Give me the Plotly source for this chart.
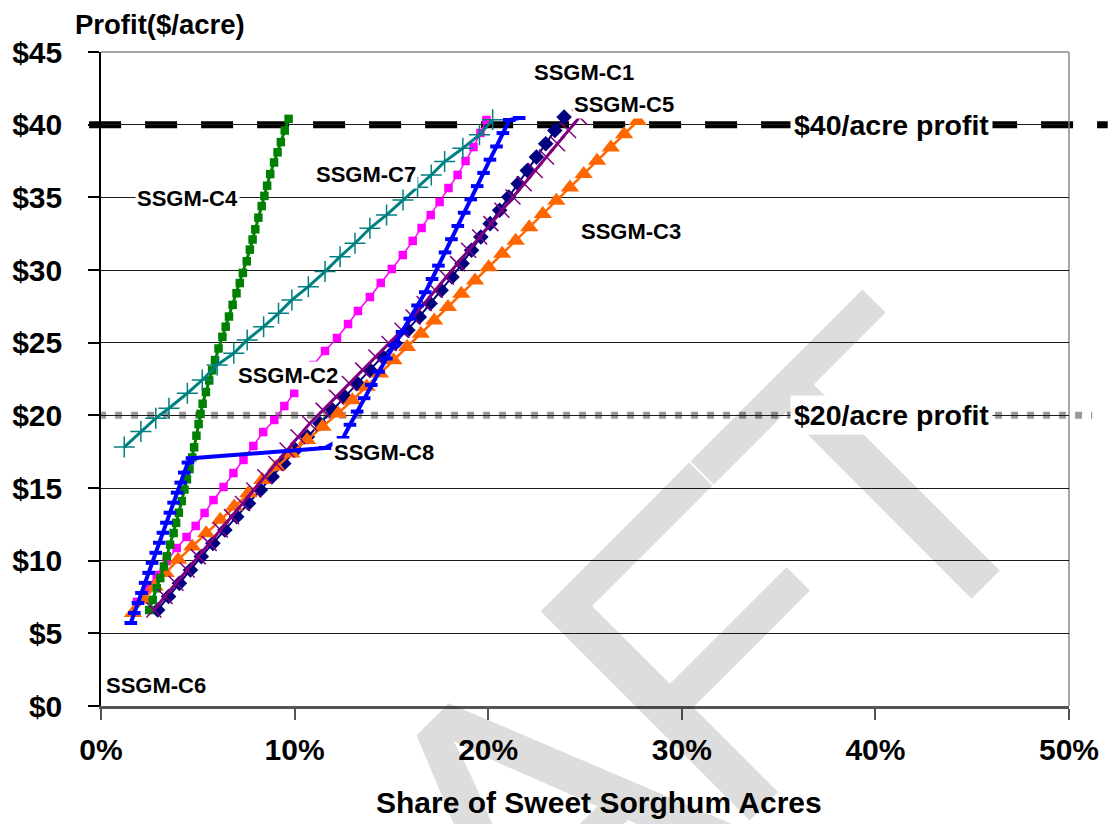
import plotly.graph_objects as go

# ---- axis ticks -------------------------------------------------------------
x_ticks = [0.0, 0.1, 0.2, 0.3, 0.4, 0.5]
y_ticks = [0, 5, 10, 15, 20, 25, 30, 35, 40, 45]
y_tick_text = ["$0", "$5", "$10", "$15", "$20", "$25", "$30", "$35", "$40", "$45"]

# ---- scenario curves: share of sweet sorghum acres (%) vs profit ($/acre) ----
c1_share = [2.93, 3.49, 4.05, 4.62, 5.18, 5.78, 6.40, 7.01, 7.62, 8.23, 8.84, 9.44,
            10.05, 10.66, 11.31, 11.96, 12.60, 13.25, 13.90, 14.55, 15.20, 15.85,
            16.44, 17.00, 17.57, 18.13, 18.65, 19.14, 19.62, 20.10, 20.59, 21.06,
            21.55, 22.02, 22.49, 22.97, 23.44, 23.92]
c1_profit = [6.61, 7.53, 8.44, 9.36, 10.28, 11.19, 12.11, 13.03, 13.94, 14.86, 15.78,
             16.69, 17.61, 18.52, 19.44, 20.36, 21.27, 22.19, 23.11, 24.02, 24.94,
             25.86, 26.77, 27.69, 28.61, 29.52, 30.44, 31.36, 32.27, 33.19, 34.11,
             35.02, 35.94, 36.85, 37.77, 38.69, 39.60, 40.52]

c2_share = [1.85, 2.37, 2.88, 3.40, 3.91, 4.42, 4.89, 5.35, 5.81, 6.33, 6.84, 7.36,
            7.87, 8.38, 8.95, 9.47, 9.98, 10.44, 10.96, 11.57, 12.19, 12.76, 13.27,
            13.89, 14.45, 15.02, 15.59, 16.10, 16.56, 17.03, 17.49, 17.95, 18.42,
            18.83, 19.24, 19.60, 19.91]
c2_profit = [7.16, 8.05, 9.01, 9.98, 10.87, 11.63, 12.39, 13.28, 14.17, 15.07, 16.03,
             16.93, 17.89, 18.85, 19.68, 20.64, 21.54, 22.50, 23.46, 24.43, 25.32,
             26.28, 27.18, 28.14, 29.11, 30.07, 31.03, 32.00, 32.89, 33.78, 34.68,
             35.64, 36.54, 37.50, 38.46, 39.43, 40.32]

c3_share = [1.65, 2.21, 2.77, 3.34, 3.98, 4.71, 5.43, 6.16, 6.88, 7.61, 8.33, 9.06,
            9.83, 10.64, 11.44, 12.25, 12.98, 13.72, 14.41, 15.11, 15.81, 16.52,
            17.21, 17.92, 18.61, 19.32, 20.02, 20.72, 21.42, 22.12, 22.82, 23.52,
            24.22, 24.93, 25.62, 26.33, 27.02, 27.73]
c3_profit = [6.40, 7.32, 8.23, 9.15, 10.06, 10.98, 11.89, 12.81, 13.72, 14.64, 15.55,
             16.47, 17.38, 18.30, 19.21, 20.13, 21.04, 21.96, 22.87, 23.79, 24.70,
             25.62, 26.53, 27.45, 28.36, 29.28, 30.19, 31.11, 32.02, 32.94, 33.85,
             34.77, 35.68, 36.60, 37.51, 38.43, 39.34, 40.26]

c4_share = [2.49, 2.67, 2.88, 3.06, 3.25, 3.40, 3.57, 3.75, 3.88, 4.02, 4.17, 4.31,
            4.44, 4.57, 4.71, 4.81, 4.93, 5.04, 5.14, 5.25, 5.42, 5.59, 5.74, 5.89,
            6.07, 6.27, 6.44, 6.61, 6.80, 7.00, 7.17, 7.33, 7.53, 7.69, 7.83, 7.97,
            8.13, 8.30, 8.44, 8.58, 8.74, 8.94, 9.12, 9.29, 9.49, 9.69]
c4_profit = [6.6, 7.3, 8.1, 8.8, 9.6, 10.3, 11.1, 11.9, 12.6, 13.3, 14.1, 14.9, 15.6,
             16.3, 17.1, 17.8, 18.6, 19.4, 20.1, 20.8, 21.6, 22.4, 23.1, 23.8, 24.6,
             25.4, 26.1, 26.8, 27.6, 28.4, 29.1, 29.8, 30.6, 31.4, 32.1, 32.8, 33.6,
             34.4, 35.1, 35.8, 36.6, 37.4, 38.1, 38.8, 39.6, 40.4]

c5_share = [2.73, 3.31, 3.87, 4.45, 5.02, 5.59, 6.17, 6.74, 7.31, 7.89, 8.46, 9.03,
            9.61, 10.17, 10.78, 11.47, 12.15, 12.83, 13.52, 14.20, 14.88, 15.55,
            16.12, 16.69, 17.27, 17.84, 18.42, 18.99, 19.56, 20.14, 20.71, 21.28,
            21.86, 22.43, 23.01, 23.58, 24.15, 24.72]
c5_profit = [6.61, 7.53, 8.44, 9.36, 10.28, 11.19, 12.11, 13.03, 13.94, 14.86, 15.78,
             16.69, 17.61, 18.52, 19.44, 20.36, 21.27, 22.19, 23.11, 24.02, 24.94,
             25.86, 26.77, 27.69, 28.61, 29.52, 30.44, 31.36, 32.27, 33.19, 34.11,
             35.02, 35.94, 36.85, 37.77, 38.69, 39.60, 40.52]

c7_share = [1.20, 2.06, 2.83, 3.51, 4.46, 5.23, 6.00, 6.86, 7.55, 8.40, 9.17, 9.86,
            10.71, 11.57, 12.35, 13.12, 13.89, 14.75, 15.60, 16.35, 17.06, 17.75,
            18.69, 19.55, 20.23]
c7_profit = [17.82, 18.88, 19.80, 20.49, 21.52, 22.43, 23.47, 24.27, 25.19, 26.10,
             27.02, 27.94, 28.85, 29.89, 30.92, 31.84, 32.87, 33.79, 34.82, 35.70,
             36.54, 37.46, 38.38, 39.30, 40.33]

c8_share = [1.54, 1.72, 1.91, 2.09, 2.28, 2.46, 2.64, 2.83, 3.01, 3.20, 3.38, 3.56,
            3.75, 3.93, 4.12, 4.30, 4.49, 4.70, 11.57, 12.50, 12.86, 13.23, 13.59,
            13.96, 14.34, 14.74, 15.14, 15.55, 15.95, 16.35, 16.75, 17.10, 17.43,
            17.77, 18.10, 18.43, 18.76, 19.10, 19.43, 19.76, 20.09, 20.43, 20.76,
            21.09, 21.60]
c8_profit = [5.71, 6.40, 7.09, 7.78, 8.47, 9.16, 9.85, 10.54, 11.23, 11.92, 12.61,
             13.30, 13.99, 14.68, 15.37, 16.06, 16.75, 17.05, 17.75, 18.44, 19.35,
             20.26, 21.18, 22.09, 23.00, 23.91, 24.82, 25.74, 26.65, 27.56, 28.47,
             29.38, 30.30, 31.21, 32.12, 33.03, 33.94, 34.86, 35.77, 36.68, 37.59,
             38.50, 39.42, 40.32, 40.46]

# profit goals drawn as horizontal reference lines
profit_goals = [40, 20]
goal_labels = ["$40/acre profit", "$20/acre profit"]

FONT = "Liberation Sans, Arial, Helvetica, sans-serif"

# drawing order follows the workbook's series order (later series on top)
series = [
    dict(name="SSGM-C1", x=c1_share, y=c1_profit, color="#000080", lw=2,
         symbol="diamond", size=12, mlw=0),
    dict(name="SSGM-C2", x=c2_share, y=c2_profit, color="#FF00FF", lw=1.5,
         symbol="square", size=8.5, mlw=0),
    dict(name="SSGM-C3", x=c3_share, y=c3_profit, color="#FF6600", lw=2.5,
         symbol="triangle-up", size=16, mlw=0),
    dict(name="SSGM-C4", x=c4_share, y=c4_profit, color="#008000", lw=3,
         symbol="square", size=8.5, mlw=0),
    dict(name="SSGM-C5", x=c5_share, y=c5_profit, color="#800080", lw=3,
         symbol="x-thin", size=15, mlw=1.5),
    dict(name="SSGM-C7", x=c7_share, y=c7_profit, color="#008080", lw=3,
         symbol="cross-thin", size=15, mlw=1.5),
    dict(name="SSGM-C8", x=c8_share, y=c8_profit, color="#0000FF", lw=4,
         symbol="line-ew", size=9, mlw=4),
]

fig = go.Figure()

for s in series:
    fig.add_trace(go.Scatter(
        x=[v / 100 for v in s["x"]], y=s["y"], name=s["name"],
        mode="lines+markers",
        line=dict(color=s["color"], width=s["lw"]),
        marker=dict(symbol=s["symbol"], size=s["size"], color=s["color"],
                    line=dict(color=s["color"], width=s["mlw"])),
        cliponaxis=False,
    ))

# ---- large diagonal watermark, painted first so everything sits over it ----
fig.add_annotation(
    text='<span style="letter-spacing:-25px">DRAFT</span>',
    xref="paper", yref="paper", x=0.4115, y=-0.2349,
    xanchor="center", yanchor="middle", showarrow=False, textangle=-45,
    font=dict(family="Liberation Sans", size=430, color="rgba(0,0,0,0.135)"),
)

# ---- profit goal reference lines (extend a little past the plot frame) ----
goal_styles = {
    40: dict(color="black", width=7, dash="32px,24px", x0=-0.0123, x1=1.04),
    20: dict(color="#999999", width=7, dash="7px,9px", x0=-0.002, x1=1.024),
}
for g in profit_goals:
    st = goal_styles[g]
    fig.add_shape(type="line", xref="paper", yref="y", x0=st["x0"], x1=st["x1"],
                  y0=g, y1=g, layer="between",
                  line=dict(color=st["color"], width=st["width"], dash=st["dash"]))

# grey frame on the top and right of the plot area
fig.add_shape(type="line", xref="paper", yref="paper", x0=0, x1=1, y0=1, y1=1,
              line=dict(color="#888888", width=1.5), layer="between")
fig.add_shape(type="line", xref="paper", yref="paper", x0=1, x1=1, y0=0, y1=1,
              line=dict(color="#888888", width=1.5), layer="between")

# ---- series labels ----
label_pos = {
    "SSGM-C1": (0.2495, 43.62),
    "SSGM-C5": (0.2701, 41.42),
    "SSGM-C7": (0.1368, 36.54),
    "SSGM-C4": (0.0448, 34.89),
    "SSGM-C3": (0.2737, 32.68),
    "SSGM-C2": (0.0967, 22.71),
    "SSGM-C8": (0.1461, 17.41),
    "SSGM-C6": (0.0283, 1.44),
}
for name, (lx, ly) in label_pos.items():
    fig.add_annotation(text=name, x=lx, y=ly, xref="x", yref="y", showarrow=False,
                       bgcolor="white", borderpad=1,
                       font=dict(family=FONT, size=22, color="black", weight="bold"))

goal_label_x = 0.4085
for g, txt in zip(profit_goals, goal_labels):
    fig.add_annotation(text=txt, x=goal_label_x, y=g, xref="x", yref="y",
                       showarrow=False, bgcolor="white", borderpad=3,
                       font=dict(family=FONT, size=28.5, color="black", weight="bold"))

# ---- axis titles ----
fig.add_annotation(text="Profit($/acre)", xref="paper", yref="paper",
                   x=-0.0288, y=1.0428, xanchor="left", yanchor="middle",
                   showarrow=False,
                   font=dict(family=FONT, size=27.5, color="black", weight="bold"))
fig.add_annotation(text="Share of Sweet Sorghum Acres", xref="paper", yref="paper",
                   x=0.5144, y=-0.1483, xanchor="center", yanchor="middle",
                   showarrow=False,
                   font=dict(family=FONT, size=30, color="black", weight="bold"))

fig.update_layout(
    width=1111, height=824,
    margin=dict(l=100, r=39, t=52, b=118, pad=0),
    paper_bgcolor="white", plot_bgcolor="white",
    showlegend=False,
    font=dict(family=FONT, color="black"),
    xaxis=dict(
        range=[0, 0.5], tickvals=x_ticks, tickformat=".0%",
        ticks="outside", ticklen=11, tickwidth=1.5, tickcolor="#555555",
        showline=True, linecolor="#555555", linewidth=2.5,
        showgrid=False, zeroline=False,
        tickfont=dict(family=FONT, size=30, color="black", weight="bold"),
        ticklabelstandoff=4,
    ),
    yaxis=dict(
        range=[0, 45], tickvals=y_ticks, ticktext=y_tick_text,
        ticks="outside", ticklen=11, tickwidth=1.5, tickcolor="black",
        showline=True, linecolor="black", linewidth=1.5,
        showgrid=True, gridcolor="#1a1a1a", gridwidth=1, zeroline=False,
        tickfont=dict(family=FONT, size=30, color="black", weight="bold"),
        ticklabelstandoff=20,
    ),
)

fig.write_html("out.html")
